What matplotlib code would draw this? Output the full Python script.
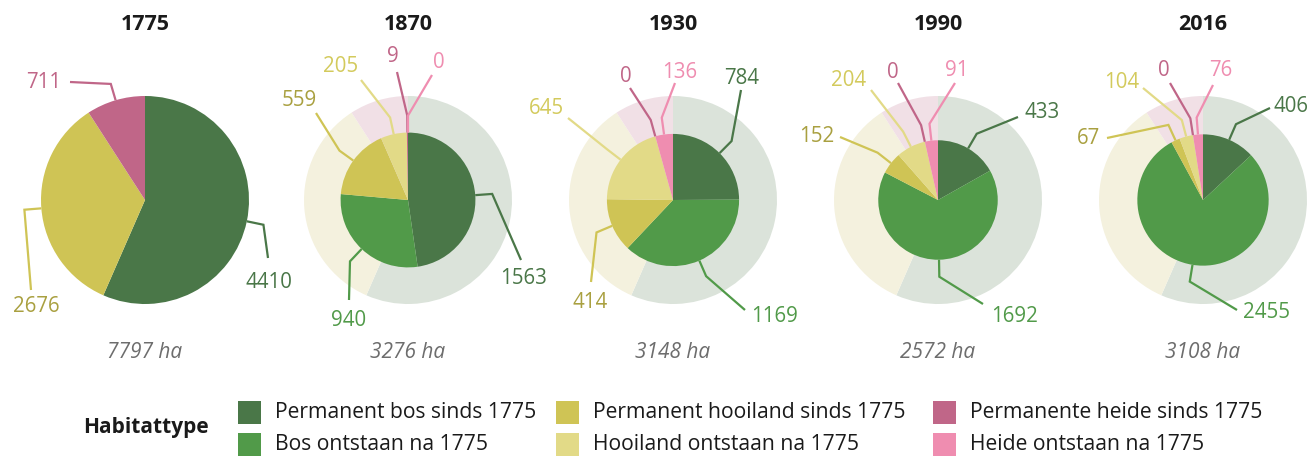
import numpy as np
import matplotlib
matplotlib.use("Agg")
import matplotlib.pyplot as plt
from matplotlib.patches import Rectangle

# ---------------- data ----------------
years = ['1775', '1870', '1930', '1990', '2016']
categories = ['Permanent bos sinds 1775', 'Bos ontstaan na 1775',
              'Permanent hooiland sinds 1775', 'Hooiland ontstaan na 1775',
              'Permanente heide sinds 1775', 'Heide ontstaan na 1775']
perm_bos = [4410, 1563, 784, 433, 406]
bos_new = [0, 940, 1169, 1692, 2455]
perm_hooi = [2676, 559, 414, 152, 67]
hooi_new = [0, 205, 645, 204, 104]
perm_heide = [711, 9, 0, 0, 0]
heide_new = [0, 0, 136, 91, 76]
legend_title = 'Habitattype'

# ---------------- style ----------------
W, H = 1311, 457
colors = ['#4a7748', '#519a49', '#cfc455', '#e2da87', '#c06688', '#ef8db0']
faded = ['#dbe3da', '#e3ecdf', '#f4f1de', '#f6f3e2', '#f1e0e6', '#f6e4ec']
text_colors = ['#4a7748', '#519a49', '#a9a040', '#d3ca5c', '#c06688', '#ef8db0']
FONT = 'Open Sans'
centers_x = [145, 408, 673, 938, 1203]
center_y = 200          # pixel row (from top)
base_radius = 104       # radius of the 1775 pie in px
elbow_len = 17

# label layout per pie: category index -> (line end dx, dy, text dx, dy) in px, y downward
layout = [
    {0: (123, 58, 124, 83), 2: (-114, 90, -109, 107), 4: (-75, -118, -101, -118)},
    {0: (113, 60, 116, 78), 1: (-59, 100, -59, 120), 2: (-92, -87, -109, -99),
     3: (-47, -120, -67, -133), 4: (-11, -128, -15, -143), 5: (24, -125, 31, -138)},
    {0: (68, -110, 69, -122), 1: (72, 110, 102, 116), 2: (-82, 82, -83, 102),
     3: (-105, -82, -127, -92), 4: (-43, -112, -47, -123), 5: (2, -117, 7, -128)},
    {0: (80, -83, 104, -87), 1: (45, 104, 77, 117), 2: (-98, -63, -121, -64),
     3: (-67, -110, -89, -120), 4: (-40, -117, -45, -128), 5: (17, -117, 19, -130)},
    {0: (67, -92, 88, -93), 1: (34, 110, 64, 113), 2: (-96, -62, -115, -61),
     3: (-60, -112, -81, -118), 4: (-33, -117, -39, -130), 5: (10, -115, 18, -130)},
]

series = [perm_bos, bos_new, perm_hooi, hooi_new, perm_heide, heide_new]

fig = plt.figure(figsize=(W / 100, H / 100), dpi=100)
ax = fig.add_axes([0, 0, 1, 1])


def Y(y):
    return H - y


base_vals = [s[0] for s in series]
base_total = sum(base_vals)

for i, yr in enumerate(years):
    vals = [s[i] for s in series]
    total = sum(vals)
    cx, cy = centers_x[i], Y(center_y)
    r = base_radius * np.sqrt(total / base_total)
    if i > 0:
        ax.pie(base_vals, radius=base_radius, center=(cx, cy), startangle=90,
               counterclock=False, colors=faded, wedgeprops=dict(linewidth=0))
    ax.pie(vals, radius=r, center=(cx, cy), startangle=90,
           counterclock=False, colors=colors, wedgeprops=dict(linewidth=0))
    # labels
    cum = np.cumsum([0] + vals)
    for k, (ex, ey, tx, ty) in layout[i].items():
        mid = (cum[k] + cum[k + 1]) / 2 / total * 2 * np.pi  # clockwise from top
        ux, uy = np.sin(mid), np.cos(mid)
        p0 = (cx + r * ux, cy + r * uy)
        p1 = (cx + (r + elbow_len) * ux, cy + (r + elbow_len) * uy)
        p2 = (cx + ex, cy - ey)
        ax.plot([p0[0], p1[0], p2[0]], [p0[1], p1[1], p2[1]], color=colors[k],
                lw=1.6, solid_capstyle='butt', solid_joinstyle='miter', zorder=3)
        ax.text(cx + tx, cy - ty, f'{vals[k]}', color=text_colors[k], fontsize=14.8,
                family=FONT, ha='center', va='center', zorder=4)
    ax.text(cx, Y(25), yr, fontsize=15.5, fontweight='bold', family=FONT,
            color='#1a1a1a', ha='center', va='center')
    ax.text(cx, Y(352), f'{total} ha', fontsize=15, style='italic', family=FONT,
            color='#6d6d6d', ha='center', va='center')

# legend
ax.text(83, Y(427), legend_title, fontsize=15, fontweight='bold', family=FONT,
        color='#1a1a1a', ha='left', va='center')
col_x = [238, 556, 933]
row_y = [412, 444]
sq = 23
for k, name in enumerate(categories):
    c, rr = k // 2, k % 2
    x0, yc = col_x[c], row_y[rr]
    ax.add_patch(Rectangle((x0, Y(yc) - sq / 2), sq, sq, color=colors[k], lw=0))
    ax.text(x0 + 37, Y(yc), name, fontsize=15.2, family=FONT, color='#1a1a1a',
            ha='left', va='center')

ax.set_xlim(0, W)
ax.set_ylim(0, H)
ax.set_aspect('equal')
ax.axis('off')
fig.savefig('out.png', dpi=100, facecolor='white')
